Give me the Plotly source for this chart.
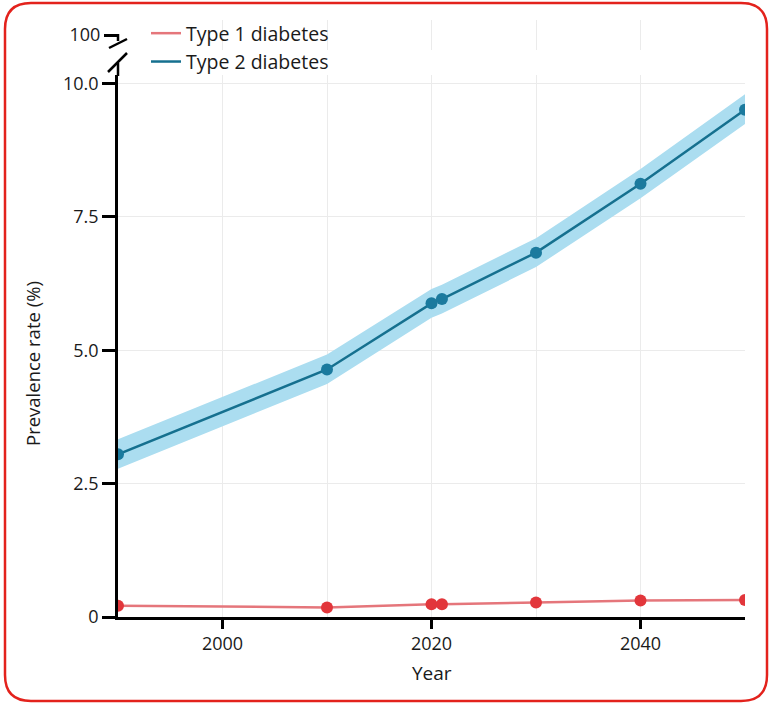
import plotly.graph_objects as go

years = [1990, 2010, 2020, 2021, 2030, 2040, 2050]
type1 = [0.21, 0.18, 0.24, 0.24, 0.27, 0.31, 0.32]
type2 = [3.05, 4.64, 5.88, 5.96, 6.83, 8.12, 9.51]
type2_upper = [3.33, 4.92, 6.15, 6.23, 7.10, 8.40, 9.80]
type2_lower = [2.78, 4.37, 5.61, 5.69, 6.56, 7.85, 9.24]
x_ticks = [2000, 2020, 2040]
y_ticks = [0, 2.5, 5.0, 7.5, 10.0]
y_ticklabels = ["0", "2.5", "5.0", "7.5", "10.0"]
break_tick = [100]

W, H = 771, 705
L, R, T, B = 118, 26, 20, 88
PW, PH = W - L - R, H - T - B
FONT = "Open Sans"
TXT = "#1a1a1a"

def px(x):
    return (x - L) / PW

def py(y):
    return (H - B - y) / PH

main_top = py(75)

fig = go.Figure()
# band
fig.add_trace(go.Scatter(x=years, y=type2_lower, mode="lines", line=dict(width=0),
                         showlegend=False, hoverinfo="skip"))
fig.add_trace(go.Scatter(x=years, y=type2_upper, mode="lines", line=dict(width=0),
                         fill="tonexty", fillcolor="#abddf0", showlegend=False, hoverinfo="skip"))
# lines (legend)
fig.add_trace(go.Scatter(x=years, y=type1, mode="lines", name="Type 1 diabetes",
                         line=dict(color="#e5767b", width=2.5)))
fig.add_trace(go.Scatter(x=years, y=type2, mode="lines", name="Type 2 diabetes",
                         line=dict(color="#15708f", width=2.5)))
# markers
fig.add_trace(go.Scatter(x=years, y=type1, mode="markers", showlegend=False,
                         marker=dict(color="#e2363b", size=12)))
fig.add_trace(go.Scatter(x=years, y=type2, mode="markers", showlegend=False,
                         marker=dict(color="#1b7a9e", size=12)))
# dummy for the broken-axis segment
fig.add_trace(go.Scatter(x=[2000], y=break_tick, yaxis="y2", mode="markers",
                         marker=dict(opacity=0), showlegend=False, hoverinfo="skip"))

axis_common = dict(linecolor="black", linewidth=2.5, ticks="outside", tickwidth=2.5,
                   tickcolor="black", tickfont=dict(family=FONT, size=18, color=TXT))

fig.update_layout(
    width=W, height=H,
    margin=dict(l=L, r=R, t=T, b=B),
    paper_bgcolor="white", plot_bgcolor="white",
    font=dict(family=FONT, size=18, color=TXT),
    xaxis=dict(range=[1990, 2050], tickvals=x_ticks, showline=True, ticklen=9,
               showgrid=True, gridcolor="#ebebeb", gridwidth=1, zeroline=False,
               minor=dict(dtick=10, tick0=1990, showgrid=True, gridcolor="#ebebeb", ticks=""),
               **axis_common),
    yaxis=dict(domain=[0, main_top], range=[0, 10.16], tickvals=y_ticks, ticktext=y_ticklabels,
               showline=True, ticklen=13, showgrid=True, gridcolor="#ebebeb", zeroline=False,
               **axis_common),
    yaxis2=dict(domain=[py(50), 1], range=[99, 101], tickvals=break_tick, ticktext=["100"],
                showline=False, ticklen=13, showgrid=False, zeroline=False, anchor="x",
                **axis_common),
    legend=dict(x=px(146), y=py(14), xanchor="left", yanchor="top", bgcolor="rgba(0,0,0,0)",
                traceorder="normal",
                font=dict(family=FONT, size=19.5, color=TXT), tracegroupgap=0),
    showlegend=True,
)

# axis titles
fig.add_annotation(text="Year", x=px(432), y=py(673), xref="paper", yref="paper",
                   xanchor="center", yanchor="middle",
                   showarrow=False, font=dict(family=FONT, size=19, color=TXT))
fig.add_annotation(text="Prevalence rate (%)", x=px(32), y=py(363), xref="paper", yref="paper",
                   xanchor="center", yanchor="middle",
                   showarrow=False, textangle=-90, font=dict(family=FONT, size=18.5, color=TXT))

# broken axis marks
segs = [((118, 34), (118, 41)), ((109, 48), (127, 39)), ((108, 72), (127, 53)), ((118, 63), (118, 76))]
for (x0, y0), (x1, y1) in segs:
    fig.add_shape(type="line", xref="paper", yref="paper", x0=px(x0), y0=py(y0), x1=px(x1), y1=py(y1),
                  line=dict(color="black", width=2.5))

# rounded border
x0, y0, x1, y1, r = 5, 3, 767, 701, 26
def P(x, y):
    return f"{px(x):.5f},{py(y):.5f}"
path = (f"M {P(x0 + r, y0)} L {P(x1 - r, y0)} Q {P(x1, y0)} {P(x1, y0 + r)} "
        f"L {P(x1, y1 - r)} Q {P(x1, y1)} {P(x1 - r, y1)} L {P(x0 + r, y1)} "
        f"Q {P(x0, y1)} {P(x0, y1 - r)} L {P(x0, y0 + r)} Q {P(x0, y0)} {P(x0 + r, y0)} Z")
fig.add_shape(type="path", path=path, xref="paper", yref="paper",
              line=dict(color="#e3221c", width=2.5))

fig.write_html("out.html", config={"displayModeBar": False},
               post_script="document.body.style.margin='0';document.body.style.overflow='hidden';")
